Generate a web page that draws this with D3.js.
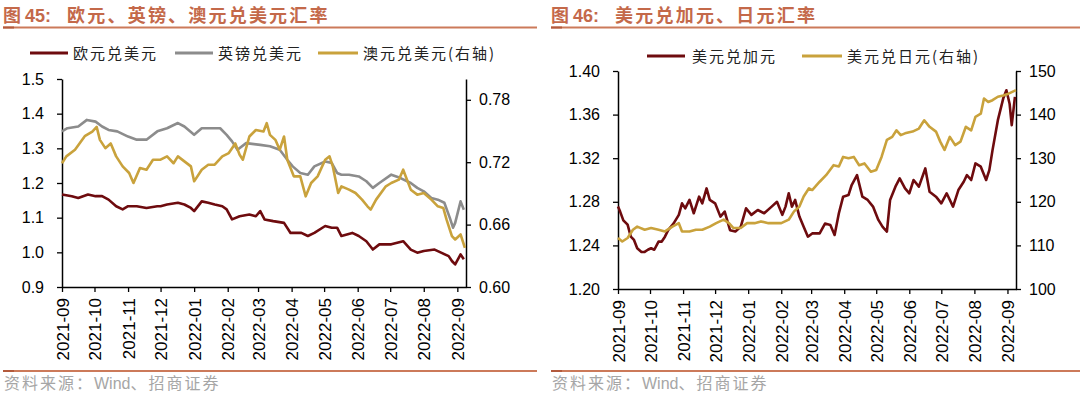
<!DOCTYPE html>
<html><head><meta charset="utf-8">
<script src="https://cdn.jsdelivr.net/npm/d3@7"></script>
<style>body{margin:0;background:#fff}svg{display:block}</style>
</head><body>
<svg id="c" width="1080" height="395"></svg>
<script>
// ---------- data ----------
const monthTicks = ["2021-09-01","2021-10-01","2021-11-01","2021-12-01","2022-01-01","2022-02-01","2022-03-01","2022-04-01","2022-05-01","2022-06-01","2022-07-01","2022-08-01","2022-09-01"];
const xStart = "2021-09-01", xEnd = "2022-09-09";

const leftTicksL = [0.9,1.0,1.1,1.2,1.3,1.4,1.5];
const leftTicksR = [0.60,0.66,0.72,0.78];
const rightTicksL = [1.20,1.24,1.28,1.32,1.36,1.40];
const rightTicksR = [100,110,120,130,140,150];

const eurDates = ["2021-09-01","2021-09-10","2021-09-16","2021-09-25","2021-10-02","2021-10-08","2021-10-14","2021-10-21","2021-10-27","2021-11-01","2021-11-09","2021-11-18","2021-11-28","2021-12-01","2021-12-07","2021-12-17","2021-12-23","2021-12-29","2022-01-01","2022-01-08","2022-01-14","2022-01-20","2022-01-27","2022-01-31","2022-02-05","2022-02-12","2022-02-21","2022-02-27","2022-03-03","2022-03-07","2022-03-15","2022-03-25","2022-03-31","2022-04-10","2022-04-16","2022-04-22","2022-05-02","2022-05-08","2022-05-13","2022-05-17","2022-05-27","2022-06-02","2022-06-09","2022-06-15","2022-06-21","2022-07-02","2022-07-13","2022-07-20","2022-07-26","2022-08-01","2022-08-11","2022-08-17","2022-08-24","2022-08-27","2022-08-30","2022-09-04","2022-09-07"];
const eurValues = [1.167,1.162,1.157,1.167,1.162,1.162,1.152,1.133,1.124,1.133,1.133,1.128,1.133,1.133,1.138,1.143,1.138,1.128,1.119,1.147,1.143,1.138,1.133,1.124,1.095,1.104,1.109,1.104,1.119,1.095,1.090,1.085,1.056,1.056,1.047,1.056,1.076,1.071,1.071,1.047,1.056,1.047,1.032,1.008,1.023,1.023,1.032,1.008,0.999,1.004,1.008,0.999,0.989,0.975,0.965,0.994,0.980];

const gbpDates = ["2021-09-01","2021-09-06","2021-09-16","2021-09-24","2021-10-02","2021-10-08","2021-10-14","2021-10-22","2021-11-01","2021-11-09","2021-11-18","2021-11-28","2021-12-07","2021-12-17","2021-12-23","2022-01-01","2022-01-08","2022-01-17","2022-01-25","2022-01-31","2022-02-05","2022-02-10","2022-02-18","2022-03-03","2022-03-12","2022-03-21","2022-03-28","2022-04-02","2022-04-09","2022-04-16","2022-04-22","2022-05-02","2022-05-08","2022-05-13","2022-05-17","2022-05-24","2022-06-02","2022-06-09","2022-06-15","2022-06-21","2022-07-02","2022-07-10","2022-07-20","2022-07-26","2022-08-01","2022-08-08","2022-08-14","2022-08-20","2022-08-25","2022-08-28","2022-08-30","2022-09-04","2022-09-07"];
const gbpValues = [1.349,1.358,1.363,1.382,1.377,1.363,1.353,1.349,1.334,1.325,1.325,1.349,1.358,1.373,1.363,1.339,1.358,1.358,1.358,1.339,1.320,1.296,1.315,1.310,1.306,1.296,1.267,1.248,1.229,1.224,1.248,1.262,1.258,1.229,1.224,1.224,1.219,1.205,1.186,1.200,1.224,1.215,1.200,1.186,1.176,1.157,1.152,1.143,1.100,1.071,1.085,1.147,1.123];

const audDates = ["2021-09-01","2021-09-05","2021-09-13","2021-09-22","2021-09-29","2021-10-03","2021-10-06","2021-10-11","2021-10-16","2021-10-21","2021-10-27","2021-11-02","2021-11-06","2021-11-12","2021-11-18","2021-11-24","2021-12-01","2021-12-07","2021-12-13","2021-12-17","2021-12-23","2021-12-29","2022-01-01","2022-01-08","2022-01-14","2022-01-20","2022-01-27","2022-02-02","2022-02-08","2022-02-12","2022-02-15","2022-02-21","2022-02-27","2022-03-06","2022-03-09","2022-03-12","2022-03-17","2022-03-21","2022-03-25","2022-03-28","2022-04-03","2022-04-09","2022-04-14","2022-04-19","2022-04-25","2022-05-02","2022-05-06","2022-05-09","2022-05-14","2022-05-17","2022-05-24","2022-05-30","2022-06-05","2022-06-10","2022-06-13","2022-06-18","2022-06-27","2022-07-02","2022-07-09","2022-07-13","2022-07-20","2022-07-26","2022-08-01","2022-08-08","2022-08-14","2022-08-19","2022-08-22","2022-08-27","2022-08-30","2022-09-04","2022-09-08"];
const audValues = [0.719,0.7256,0.732,0.745,0.7495,0.754,0.7415,0.7335,0.738,0.7256,0.716,0.7096,0.700,0.7144,0.7128,0.7224,0.7224,0.7256,0.719,0.7256,0.7208,0.716,0.7016,0.7128,0.7176,0.7176,0.7256,0.7288,0.738,0.7272,0.7224,0.7447,0.751,0.7495,0.7575,0.7463,0.7415,0.732,0.7447,0.7224,0.7064,0.7064,0.6872,0.700,0.7064,0.7224,0.7256,0.716,0.6904,0.6968,0.6936,0.6904,0.684,0.6776,0.6744,0.684,0.6968,0.700,0.7032,0.7128,0.6936,0.6888,0.6904,0.684,0.6776,0.676,0.665,0.6489,0.6457,0.6505,0.6377];

const cadDates = ["2021-09-01","2021-09-03","2021-09-06","2021-09-10","2021-09-13","2021-09-16","2021-09-19","2021-09-23","2021-09-26","2021-09-29","2021-10-02","2021-10-05","2021-10-09","2021-10-12","2021-10-15","2021-10-18","2021-10-23","2021-10-28","2021-10-31","2021-11-03","2021-11-07","2021-11-11","2021-11-16","2021-11-19","2021-11-23","2021-11-26","2021-12-01","2021-12-06","2021-12-10","2021-12-15","2021-12-20","2021-12-25","2021-12-30","2022-01-04","2022-01-10","2022-01-16","2022-01-23","2022-01-28","2022-02-02","2022-02-05","2022-02-08","2022-02-11","2022-02-14","2022-02-18","2022-02-22","2022-02-26","2022-03-02","2022-03-09","2022-03-14","2022-03-19","2022-03-23","2022-03-27","2022-03-31","2022-04-05","2022-04-08","2022-04-13","2022-04-18","2022-04-23","2022-04-28","2022-05-03","2022-05-07","2022-05-11","2022-05-14","2022-05-19","2022-05-23","2022-05-28","2022-06-01","2022-06-05","2022-06-10","2022-06-16","2022-06-20","2022-06-26","2022-07-01","2022-07-06","2022-07-12","2022-07-17","2022-07-22","2022-07-25","2022-07-29","2022-08-02","2022-08-07","2022-08-12","2022-08-15","2022-08-18","2022-08-23","2022-08-28","2022-08-31","2022-09-03","2022-09-05","2022-09-08"];
const cadValues = [1.2756,1.271,1.263,1.259,1.248,1.245,1.2374,1.234,1.234,1.236,1.2374,1.236,1.2435,1.2435,1.248,1.254,1.260,1.268,1.2786,1.274,1.2817,1.2695,1.2847,1.2786,1.2923,1.2817,1.2786,1.2664,1.271,1.254,1.2527,1.257,1.274,1.268,1.2725,1.2695,1.2756,1.280,1.268,1.2756,1.2878,1.2756,1.2817,1.2664,1.257,1.248,1.251,1.251,1.260,1.2588,1.2496,1.2695,1.2847,1.2862,1.2954,1.3045,1.2847,1.2817,1.2756,1.2634,1.257,1.2527,1.2817,1.2939,1.3015,1.2923,1.2878,1.300,1.2939,1.3106,1.2893,1.2847,1.2786,1.2878,1.2756,1.2908,1.2984,1.3045,1.300,1.3152,1.3122,1.300,1.3091,1.3274,1.3549,1.3747,1.3823,1.370,1.3503,1.3762];

const jpyDates = ["2021-09-01","2021-09-05","2021-09-10","2021-09-15","2021-09-19","2021-09-26","2021-10-02","2021-10-09","2021-10-15","2021-10-22","2021-10-28","2021-10-31","2021-11-07","2021-11-13","2021-11-19","2021-11-26","2021-12-02","2021-12-09","2021-12-14","2021-12-18","2021-12-25","2021-12-31","2022-01-07","2022-01-13","2022-01-20","2022-01-26","2022-02-01","2022-02-08","2022-02-13","2022-02-18","2022-02-22","2022-02-27","2022-03-02","2022-03-09","2022-03-15","2022-03-22","2022-03-27","2022-03-31","2022-04-05","2022-04-10","2022-04-15","2022-04-20","2022-04-26","2022-05-01","2022-05-06","2022-05-11","2022-05-16","2022-05-20","2022-05-24","2022-05-28","2022-06-04","2022-06-10","2022-06-15","2022-06-20","2022-06-26","2022-06-30","2022-07-04","2022-07-09","2022-07-14","2022-07-19","2022-07-24","2022-07-29","2022-08-02","2022-08-07","2022-08-10","2022-08-14","2022-08-18","2022-08-23","2022-08-28","2022-09-02","2022-09-09"];
const jpyValues = [111.7,110.9,111.7,113.6,114.3,113.6,114.0,113.6,113.2,114.3,115.1,113.2,113.2,113.6,113.6,114.3,115.1,115.9,115.1,114.0,114.0,115.1,115.1,115.5,115.1,115.1,115.1,115.9,117.8,118.9,121.2,123.1,122.7,124.6,126.1,128.4,128.1,130.3,130.0,130.3,128.4,128.8,126.9,127.3,130.3,134.2,134.9,136.4,135.3,135.7,136.1,136.8,138.7,137.2,136.1,133.8,131.9,134.9,133.0,133.8,137.2,136.4,139.5,140.2,143.7,142.9,143.3,144.1,144.4,144.8,145.6];

const leftNames = ["欧元兑美元","英镑兑美元","澳元兑美元(右轴)"];
const rightNames = ["美元兑加元","美元兑日元(右轴)"];

// ---------- styles ----------
const C_RED = "#6e0b0e", C_GRAY = "#8c8c8c", C_GOLD = "#c9a23c";
const C_TITLE = "#c4694a", C_RULE = "#cc7a5a";
const CJK = "'Noto Sans CJK SC', sans-serif";
const LAT = "'Liberation Sans', Arial, sans-serif";

const svg = d3.select("#c");
const parse = d3.timeParse("%Y-%m-%d");
const zip = (ds, vs) => ds.slice(0, Math.min(ds.length, vs.length)).map((d, i) => ({date: parse(d), v: vs[i]}));

function header(x0, x1, numStr, titleStr) {
  const t = svg.append("text").attr("x", x0 + 3).attr("y", 22)
    .attr("fill", C_TITLE).attr("font-weight", "bold").attr("font-size", 18);
  t.append("tspan").attr("font-family", CJK).text("图 ");
  t.append("tspan").attr("font-family", LAT).text(numStr + ":");
  t.append("tspan").attr("font-family", CJK).attr("dx", 16).attr("letter-spacing", 2.2).text(titleStr);
  svg.append("line").attr("x1", x0 + 3).attr("x2", x1).attr("y1", 27.5).attr("y2", 27.5)
    .attr("stroke", C_RULE).attr("stroke-width", 2);
  svg.append("line").attr("x1", x0 + 3).attr("x2", x0 + 14).attr("y1", 27.5).attr("y2", 27.5)
    .attr("stroke", "#b35a3c").attr("stroke-width", 2);
  svg.append("line").attr("x1", x0 + 3).attr("x2", x1).attr("y1", 371).attr("y2", 371)
    .attr("stroke", C_RULE).attr("stroke-width", 2);
  svg.append("line").attr("x1", x0 + 3).attr("x2", x0 + 14).attr("y1", 371).attr("y2", 371)
    .attr("stroke", "#b35a3c").attr("stroke-width", 2);
  const s = svg.append("text").attr("x", x0 + 4).attr("y", 389).attr("fill", "#a6a6a6").attr("font-size", 16);
  s.append("tspan").attr("font-family", CJK).attr("letter-spacing", 2).text("资料来源：");
  s.append("tspan").attr("font-family", LAT).text("Wind");
  s.append("tspan").attr("font-family", CJK).attr("letter-spacing", 2).text("、招商证券");
}

function legend(items, y) {
  items.forEach(it => {
    svg.append("line").attr("x1", it.x1).attr("x2", it.x2).attr("y1", y).attr("y2", y)
      .attr("stroke", it.color).attr("stroke-width", 3);
    svg.append("text").attr("x", it.tx).attr("y", y + 5.5).attr("font-family", CJK)
      .attr("font-size", 15).attr("letter-spacing", 2).attr("fill", "#222").text(it.name);
  });
}

function panel(cfg) {
  const x = d3.scaleTime().domain([parse(xStart), parse(xEnd)]).range([cfg.left, cfg.right]);
  const yL = d3.scaleLinear().domain(cfg.domL).range([cfg.bottom, cfg.top]);
  const yR = d3.scaleLinear().domain(cfg.domR).range([cfg.bottom, cfg.top]);
  const g = svg.append("g");

  const styleAxis = (sel, fs) => {
    sel.select(".domain").attr("stroke", "#000").attr("stroke-width", 1.5);
    sel.selectAll(".tick line").attr("stroke", "#000").attr("stroke-width", 1.3);
    sel.selectAll("text").attr("font-family", LAT).attr("font-size", fs).attr("fill", "#000");
  };

  g.append("g").attr("transform", `translate(${cfg.left},0)`)
    .call(d3.axisLeft(yL).tickValues(cfg.ticksL).tickFormat(d3.format(cfg.fmtL)).tickSize(5).tickSizeOuter(0).tickPadding(13))
    .call(s => styleAxis(s, 16));
  g.append("g").attr("transform", `translate(${cfg.right},0)`)
    .call(d3.axisRight(yR).tickValues(cfg.ticksR).tickFormat(d3.format(cfg.fmtR)).tickSize(5).tickSizeOuter(0).tickPadding(8))
    .call(s => styleAxis(s, 16));
  const xa = g.append("g").attr("transform", `translate(0,${cfg.bottom})`)
    .call(d3.axisBottom(x).tickValues(monthTicks.map(parse)).tickFormat(d3.timeFormat("%Y-%m")).tickSize(5).tickSizeOuter(0))
    .call(s => styleAxis(s, 17));
  xa.selectAll("text").attr("transform", "rotate(-90)").attr("text-anchor", "end")
    .attr("x", -11).attr("y", 0).attr("dy", "0.36em");

  const lineL = d3.line().x(d => x(d.date)).y(d => yL(d.v));
  const lineR = d3.line().x(d => x(d.date)).y(d => yR(d.v));
  cfg.seriesL.forEach(s => g.append("path").datum(s.data).attr("d", lineL)
    .attr("fill", "none").attr("stroke", s.color).attr("stroke-width", 2.6).attr("stroke-linejoin", "round"));
  cfg.seriesR.forEach(s => g.append("path").datum(s.data).attr("d", lineR)
    .attr("fill", "none").attr("stroke", s.color).attr("stroke-width", 2.6).attr("stroke-linejoin", "round"));
}

// ---------- left panel ----------
header(0, 537, "45", "欧元、英镑、澳元兑美元汇率");
legend([
  {x1: 30, x2: 68, tx: 73, color: C_RED, name: leftNames[0]},
  {x1: 175, x2: 213, tx: 218, color: C_GRAY, name: leftNames[1]},
  {x1: 318, x2: 358, tx: 363, color: C_GOLD, name: leftNames[2]}
], 53);
panel({
  left: 62, right: 466, top: 79, bottom: 287,
  domL: [0.9, 1.5], domR: [0.6, 0.8],
  ticksL: leftTicksL, ticksR: leftTicksR, fmtL: ".1f", fmtR: ".2f",
  seriesL: [{data: zip(eurDates, eurValues), color: C_RED}, {data: zip(gbpDates, gbpValues), color: C_GRAY}],
  seriesR: [{data: zip(audDates, audValues), color: C_GOLD}]
});

// ---------- right panel ----------
header(548, 1080, "46", "美元兑加元、日元汇率");
legend([
  {x1: 647, x2: 685, tx: 692, color: C_RED, name: rightNames[0]},
  {x1: 802, x2: 842, tx: 847, color: C_GOLD, name: rightNames[1]}
], 56);
panel({
  left: 618, right: 1016, top: 71, bottom: 289,
  domL: [1.20, 1.40], domR: [100, 150],
  ticksL: rightTicksL, ticksR: rightTicksR, fmtL: ".2f", fmtR: "d",
  seriesL: [{data: zip(cadDates, cadValues), color: C_RED}],
  seriesR: [{data: zip(jpyDates, jpyValues), color: C_GOLD}]
});
</script>
</body></html>
